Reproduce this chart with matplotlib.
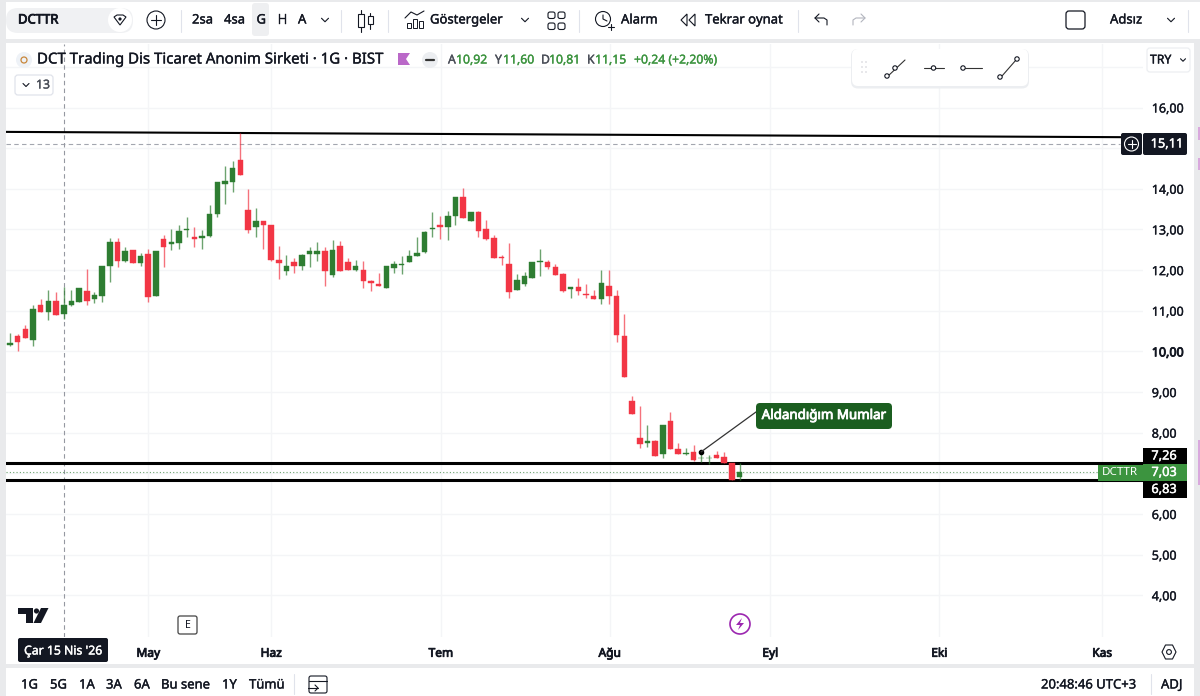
import matplotlib
matplotlib.use("Agg")
import matplotlib.pyplot as plt
import matplotlib.patheffects as pe
from matplotlib.patches import Rectangle, FancyBboxPatch, Circle, Polygon

plt.rcParams['font.family'] = ['Noto Sans', 'DejaVu Sans']

opens = [10.16,10.37,10.55,10.28,11.14,10.97,11.25,10.91,11.13,11.22,11.49,11.30,11.36,12.10,12.70,12.23,12.49,12.17,12.40,11.36,
         12.77,12.64,12.66,12.99,12.81,12.80,12.84,13.37,14.13,14.17,14.70,13.49,13.07,13.20,13.11,12.24,11.99,12.20,12.11,12.39,
         12.40,12.48,11.87,12.60,12.19,12.01,12.01,11.73,11.67,11.57,12.05,12.13,12.20,12.34,12.44,13.00,13.11,13.05,13.34,13.81,
         13.21,13.43,13.01,12.79,12.33,12.16,11.50,11.66,11.80,12.20,12.20,12.07,11.90,11.54,11.59,11.42,11.37,11.28,11.62,11.37,
         10.37,8.78,7.87,7.75,7.80,7.47,8.29,7.60,7.48,7.52,7.37,7.37,7.46,7.41,7.26,6.90]
highs = [10.45,10.44,10.66,11.14,11.28,11.52,11.45,11.59,11.50,11.57,12.02,11.47,12.10,12.78,12.80,12.58,12.49,12.43,12.53,12.48,
         12.87,13.02,13.11,13.30,13.05,12.99,13.61,14.17,14.57,14.68,15.38,13.99,13.53,13.20,13.12,12.60,12.38,12.30,12.40,12.58,
         12.68,12.58,12.75,12.71,12.30,12.25,12.23,11.76,11.93,12.09,12.23,12.34,12.50,12.81,12.97,13.43,13.34,13.46,13.80,14.02,
         13.44,13.46,13.23,12.87,12.38,12.67,11.91,11.96,12.20,12.52,12.25,12.14,11.92,11.59,11.81,11.65,11.51,12.01,12.01,11.51,
         10.93,8.90,8.66,8.20,7.81,8.18,8.50,7.75,7.62,7.70,7.52,7.46,7.56,7.52,7.26,7.25]
lows = [10.13,10.01,10.34,10.14,10.97,10.77,10.89,10.79,11.12,11.21,11.14,11.18,11.22,11.70,12.07,12.19,12.17,12.09,11.22,11.36,
        12.07,12.50,12.52,12.81,12.57,12.53,12.81,13.30,13.62,13.92,14.34,12.91,12.81,12.53,12.22,11.77,11.87,11.93,12.01,12.07,
        12.22,11.60,11.83,11.99,12.01,11.97,11.55,11.48,11.61,11.57,11.94,11.91,12.20,12.34,12.42,12.81,12.77,12.73,13.11,13.27,
        13.20,12.81,12.75,12.30,12.13,11.32,11.50,11.60,11.80,11.86,12.02,11.89,11.47,11.31,11.39,11.31,11.28,11.17,11.16,10.24,
        9.37,8.45,7.62,7.66,7.43,7.37,7.61,7.48,7.46,7.31,7.29,7.23,7.37,7.25,6.83,6.83]
closes = [10.21,10.24,10.34,11.04,10.98,11.25,10.89,11.13,11.24,11.56,11.25,11.38,12.10,12.70,12.23,12.48,12.17,12.34,11.34,12.48,
          12.58,12.68,12.95,13.02,12.76,12.85,13.39,14.16,14.19,14.50,14.34,12.98,13.20,13.10,12.26,12.17,12.11,12.11,12.36,12.46,
          12.46,11.99,12.50,11.99,12.01,12.09,11.72,11.68,11.61,12.09,12.14,12.16,12.34,12.42,12.93,13.03,13.05,13.34,13.80,13.27,
          13.43,12.97,12.77,12.30,12.30,11.47,11.75,11.86,12.20,12.22,12.07,11.89,11.49,11.59,11.49,11.39,11.28,11.69,11.36,10.41,
          9.37,8.45,7.73,7.80,7.43,8.18,7.61,7.48,7.50,7.33,7.38,7.38,7.37,7.26,6.83,7.03]

price_ticks = [4,5,6,7,8,9,10,11,12,13,14,15,16,17]
price_labels = ['4,00','5,00','6,00','','8,00','9,00','10,00','11,00','12,00','13,00','14,00','','16,00','']
month_pos = [18,34,56.1,78.1,99,121,142.2]
month_labels = ['May','Haz','Tem','Ağu','Eyl','Eki','Kas']

trend_x = [-0.5,144.8]
trend_y = [15.40,15.27]
upper_level = 15.11
level_hi = 7.26
level_lo = 6.83
last_close = 7.03
cross_idx = 7
note_idx = 90
note_price = 7.53

GREEN = '#2E7D32'
RED = '#F23645'
TXT = '#131722'
GRID = '#f4f5f7'

W, H = 1200, 696
fig = plt.figure(figsize=(W/100, H/100), dpi=100, facecolor='white')

SOFT = [pe.withStroke(linewidth=0.25, foreground=TXT)]
BOLD = [pe.withStroke(linewidth=0.6, foreground=TXT)]

def px_axes(z):
    a = fig.add_axes([0, 0, 1, 1], zorder=z)
    a.set_xlim(0, W)
    a.set_ylim(H, 0)
    a.axis('off')
    a.patch.set_alpha(0)
    return a

bg = px_axes(0)
for r in [(0, 39, W, 4), (0, 0, 6, H), (1194, 39, 6, H), (0, 664, W, 4), (0, 0, W, 2)]:
    bg.add_patch(Rectangle((r[0], r[1]), r[2], r[3], fc='#e9eaec', ec='none'))
for y0, h in [(127, 13), (158, 12), (440, 45)]:
    bg.add_patch(Rectangle((1198, y0), 2, h, fc='#d9a8dd', ec='none'))

# chart pane
L, R, T, B = 6, 1143, 44, 637
ax = fig.add_axes([L/W, 1-B/H, (R-L)/W, (B-T)/H], zorder=1)
ax.patch.set_alpha(0)
ax.set_xlim((L-10)/7.68, (R-10)/7.68)
ax.set_ylim(16-(B-107.5)/40.65, 16-(T-107.5)/40.65)
for s in ax.spines.values():
    s.set_visible(False)
ax.yaxis.tick_right()
ax.set_yticks(price_ticks, price_labels, fontsize=9.0, color=TXT)
ax.set_xticks(month_pos, month_labels, fontsize=8.6, color=TXT)
ax.tick_params(axis='both', length=0)
ax.tick_params(axis='y', pad=6.3)
ax.tick_params(axis='x', pad=7)
ax.grid(True, color=GRID, lw=1)
ax.set_axisbelow(True)
for lab in ax.get_xticklabels():
    lab.set_path_effects(BOLD)
for lab in ax.get_yticklabels():
    lab.set_path_effects(BOLD if lab.get_text() == '10,00' else SOFT)

n = len(opens)
xs = list(range(n))
cols = [GREEN if c >= o else RED for o, c in zip(opens, closes)]
ax.vlines(xs, lows, highs, colors=cols, lw=1.0, alpha=0.7, zorder=6)
ax.bar(xs, [abs(c-o) for o, c in zip(opens, closes)], bottom=[min(o, c) for o, c in zip(opens, closes)],
       width=0.72, color=cols, edgecolor=cols, lw=0.3, zorder=7)

ax.plot(trend_x, trend_y, color='black', lw=1.5, zorder=5)
ax.axhline(upper_level, xmax=(1120-L)/(R-L), color='#a3a6af', lw=0.8, ls=(0, (4, 3)), zorder=2)
ax.axvline(cross_idx, color='#9598a1', lw=0.8, ls=(0, (4, 3)), zorder=2)
ax.axhline(level_hi, color='black', lw=2.2, zorder=5)
ax.axhline(level_lo, color='black', lw=2.2, zorder=5)
ax.axhline(last_close, color=GREEN, lw=0.8, ls=(0, (1, 2)), alpha=0.7, zorder=2)
ax.plot([note_idx], [note_price], 'o', color='black', ms=3.0, zorder=8)
box_x = (756-10)/7.68
box_p = 16-(412-107.5)/40.65
ax.plot([note_idx, box_x], [note_price, box_p], color='#333333', lw=0.9, zorder=8)

ov = px_axes(2)

def text(x, y, s, size=9, color=TXT, ha='left', heavy=False):
    t = ov.text(x, y, s, fontsize=size, color=color, ha=ha, va='center', zorder=6)
    t.set_path_effects([pe.withStroke(linewidth=0.6 if heavy else 0.25, foreground=color)])
    return t

def rrect(x, y, w, h, r=3, fc='white', ec='none', lw=1, z=3):
    p = FancyBboxPatch((x+r, y+r), w-2*r, h-2*r, boxstyle=f'round,pad={r},rounding_size={r}',
                       fc=fc, ec=ec, lw=lw, zorder=z)
    ov.add_patch(p)
    return p

def line(xx, yy, color=TXT, lw=0.8, z=4):
    ov.plot(xx, yy, color=color, lw=lw, solid_capstyle='round', zorder=z)

def circ(x, y, r, fc='none', ec=TXT, lw=0.8, z=4):
    ov.add_patch(Circle((x, y), r, fc=fc, ec=ec, lw=lw, zorder=z))

def chevron(x, y, s=3.5, color=TXT):
    line([x-s, x, x+s], [y-s/2, y+s/2, y-s/2], color=color, lw=0.8)

# top toolbar
rrect(6, 8, 127, 25, r=12, fc='#f0f1f3')
text(18, 20, 'DCTTR', 9.4, heavy=True)
circ(120, 20, 12, fc='white', ec='none')
ov.add_patch(Polygon([(114, 17), (117, 15), (123, 15), (126, 17), (120, 25)], closed=True, fc='white', ec=TXT, lw=0.8, zorder=5))
circ(120, 19, 1.6, fc=TXT, ec='none', z=6)
circ(156, 20, 9)
line([151, 161], [20, 20]); line([156, 156], [15, 25])
for sx in [181, 341, 388, 579, 798, 1188]:
    line([sx, sx], [10, 32], color='#e0e3eb', lw=0.8)
rrect(252, 3, 17, 33, r=3, fc='#eeeff1', z=2)
for x0, s in [(192, '2sa'), (224, '4sa'), (256.5, 'G'), (278, 'H'), (298, 'A')]:
    text(x0, 20, s, 9.4)
chevron(325, 20)
line([361, 361], [10, 32]); ov.add_patch(Rectangle((358, 14), 6, 13, fc='white', ec=TXT, lw=0.8, zorder=5))
line([370, 370], [13, 29]); ov.add_patch(Rectangle((367.5, 16), 5, 8, fc='white', ec=TXT, lw=0.8, zorder=5))
for x0, h in [(409, 5), (415, 9), (421, 7)]:
    ov.add_patch(Rectangle((x0-2, 28-h), 4, h, fc='white', ec=TXT, lw=0.7, zorder=4))
line([405, 411, 417, 424], [18, 12, 15, 11], lw=0.8)
text(430, 20, 'Göstergeler', 9.4)
chevron(525, 20)
for gx in [548, 558]:
    for gy in [12, 23]:
        rrect(gx, gy, 7, 6.5, r=2, fc='white', ec=TXT, lw=0.8)
circ(603, 19, 7.5)
line([603, 603, 607], [15, 19, 21], lw=0.8)
line([608, 614], [27, 27]); line([611, 611], [24, 30])
text(621, 20, 'Alarm', 9.4)
ov.add_patch(Polygon([(681, 20), (687, 14), (687, 26)], closed=True, fc='white', ec=TXT, lw=0.8, zorder=4))
ov.add_patch(Polygon([(689, 20), (695, 14), (695, 26)], closed=True, fc='white', ec=TXT, lw=0.8, zorder=4))
text(705, 20, 'Tekrar oynat', 9.4)
line([815, 824, 827, 827], [18, 18, 20, 25], lw=0.8); line([819, 815, 819], [14, 18, 22], lw=0.8)
line([865, 856, 853, 853], [18, 18, 20, 25], color='#b2b5be', lw=0.8); line([861, 865, 861], [14, 18, 22], color='#b2b5be', lw=0.8)
rrect(1066, 11, 19, 18, r=3, fc='white', ec=TXT, lw=0.9)
text(1110, 20, 'Adsız', 9.4)
chevron(1171, 20)

# legend
circ(24, 60, 8, fc='#eef2f7', ec='none')
circ(24, 60, 3, fc='none', ec='#c8863a', lw=0.9)
text(37, 60, 'DCT Trading Dis Ticaret Anonim Sirketi · 1G · BIST', 10.8)
ov.add_patch(Polygon([(398, 53), (410, 53), (406, 59), (410, 65), (398, 65)], closed=True, fc='#ba68c8', ec='none', zorder=4))
circ(430, 60, 8, fc='#eceef1', ec='none')
line([426, 434], [60, 60], color='#333333', lw=1.6, z=5)
for x0, lbl, x1, val in [(448, 'A', 456, '10,92'), (495, 'Y', 503, '11,60'), (541, 'D', 549, '10,81'), (587, 'K', 595, '11,15')]:
    text(x0, 60, lbl, 8.8, color='#4a4e58')
    text(x1, 60, val, 8.8, color='#3c943f')
text(634, 60, '+0,24 (+2,20%)', 8.8, color='#3c943f')
rrect(15, 75, 38, 20, r=3, fc='white', ec='#e0e3eb', lw=0.9)
chevron(26, 85, s=3)
text(36, 85, '13', 8.8, color='#4a4e58')

# floating drawing toolbar
rrect(851, 49, 178, 39.5, r=7, fc='#eceef1', z=2)
rrect(852, 49, 176, 37, r=6, fc='white', z=3)
for dx in [862, 866]:
    for dy in [62, 67, 72]:
        circ(dx, dy, 0.7, fc='#c4c6cc', ec='none')
line([887, 905], [77, 60], color='#333333'); circ(887, 76, 2.2, fc='white'); circ(895, 68, 2.2, fc='white')
line([924, 944], [68, 68], color='#333333'); circ(933.5, 68, 2.2, fc='white')
line([965, 982], [68, 68], color='#333333'); circ(963, 68, 2.2, fc='white')
line([1002, 1016], [76, 60], color='#333333'); circ(1000, 77, 2.2, fc='white'); circ(1017, 59, 2.2, fc='white')
rrect(1147, 48, 43, 24, r=3, fc='white', ec='#eceef1', lw=0.9)
text(1150, 60, 'TRY', 8.8)
chevron(1183, 60, s=2.5)

# price tags
tag_x, tag_w = 1143, 44
rrect(tag_x, 133, tag_w, 22, r=2, fc=TXT, z=5)
rrect(1121, 133, 21, 22, r=2, fc=TXT, z=5)
ov.text(tag_x+24, 144, '15,11', fontsize=9.2, color='white', ha='center', va='center', zorder=6, path_effects=[pe.withStroke(linewidth=0.3, foreground='white')])
circ(1131.5, 144, 7, ec='white', lw=0.8, z=6)
line([1127.5, 1135.5], [144, 144], color='white', lw=0.8, z=6); line([1131.5, 1131.5], [140, 148], color='white', lw=0.8, z=6)
ov.add_patch(Rectangle((tag_x, 448), tag_w, 16, fc='black', ec='none', zorder=5))
ov.add_patch(Rectangle((tag_x, 481), tag_w, 17, fc='black', ec='none', zorder=5))
ov.add_patch(Rectangle((1098, 465), 45, 16, fc='#3c943f', ec='none', zorder=5))
ov.add_patch(Rectangle((tag_x, 464), tag_w, 17, fc='#3c943f', ec='none', zorder=5))
for y0, s in [(456, '7,26'), (472.5, '7,03'), (489.5, '6,83')]:
    ov.text(tag_x+21, y0, s, fontsize=9.2, color='white', ha='center', va='center', zorder=6, path_effects=[pe.withStroke(linewidth=0.3, foreground='white')])
ov.text(1120, 472.5, 'DCTTR', fontsize=8.4, color='white', ha='center', va='center', zorder=6)

# annotation box
rrect(756, 403, 136, 26, r=4, fc='#1b5e20', z=5)
ov.text(824, 415.5, 'Aldandığım Mumlar', fontsize=9.6, color='white', ha='center', va='center', zorder=6, path_effects=[pe.withStroke(linewidth=0.6, foreground='white')])

# watermark, events
ov.add_patch(Polygon([(18, 608), (33, 608), (33, 623), (26, 623), (26, 614), (18, 614)], closed=True, fc=TXT, ec='none', zorder=4))
circ(36.5, 611, 2.6, fc=TXT, ec='none')
ov.add_patch(Polygon([(41, 608), (48.5, 608), (41, 623), (33.5, 623)], closed=True, fc=TXT, ec='none', zorder=4))
rrect(178, 616, 19, 18, r=2, fc='white', ec='#444444', lw=0.9)
ov.text(187.5, 625, 'E', fontsize=7.6, color=TXT, ha='center', va='center', zorder=5)
circ(740, 624, 10, ec='#9c27b0', lw=1.2)
ov.add_patch(Polygon([(742, 618), (736, 625), (740, 625), (738, 630), (744, 623), (740, 623)], closed=True, fc='#9c27b0', ec='none', zorder=5))
ov.add_patch(Polygon([(1162, 652), (1165.5, 645), (1172.5, 645), (1176, 652), (1172.5, 659), (1165.5, 659)], closed=True, fc='white', ec=TXT, lw=0.8, zorder=4))
circ(1169, 652, 2.4)

# date crosshair label
rrect(18, 638, 90, 24, r=2, fc='#131722', z=5)
ov.text(63, 651, "Çar 15 Nis '26", fontsize=8.8, color='white', ha='center', va='center', zorder=6, path_effects=[pe.withStroke(linewidth=0.3, foreground='white')])

# bottom toolbar
for x0, s in [(21, '1G'), (50, '5G'), (79, '1A'), (106, '3A'), (134, '6A'), (161, 'Bu sene'), (222, '1Y'), (249, 'Tümü')]:
    text(x0, 685, s, 9.4)
line([294, 294], [674, 694], color='#e0e3eb', lw=0.8)
rrect(309, 676, 18, 17, r=2, fc='white', ec=TXT, lw=0.8)
line([309, 327], [681, 681], lw=0.8)
line([308, 318], [688, 688], lw=0.8); line([315, 318, 315], [685, 688, 691], lw=0.8)
text(1041, 685, '20:48:46 UTC+3', 9.4)
line([1151, 1151], [674, 694], color='#e0e3eb', lw=0.8)
text(1161, 685, 'ADJ', 9.4)

fig.savefig('out.png', dpi=100)
